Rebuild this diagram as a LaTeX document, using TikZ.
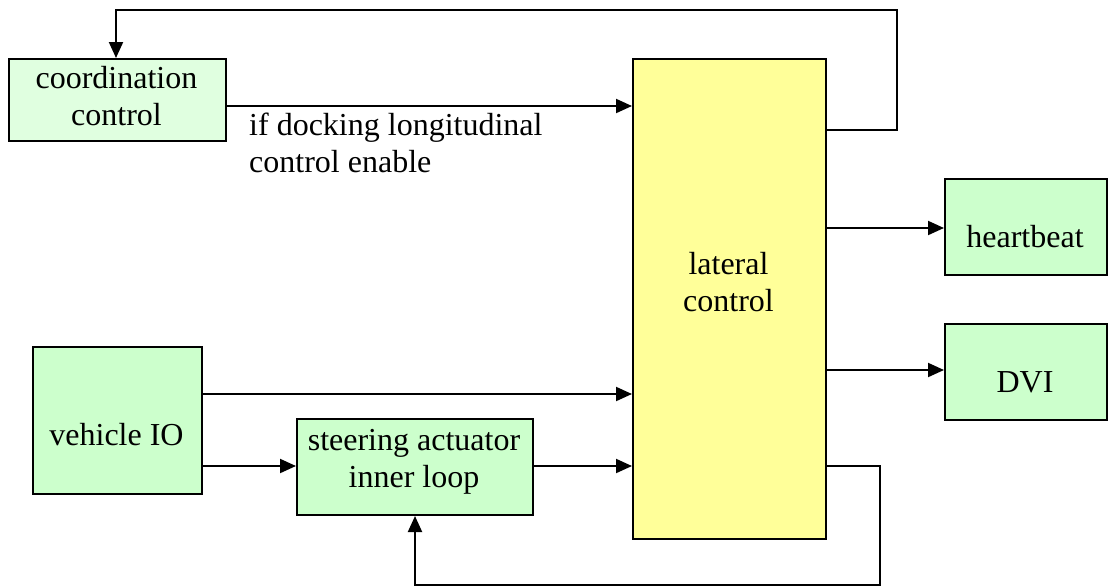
\documentclass[tikz,border=0pt]{standalone}
\usepackage{fontspec}
\setmainfont{Liberation Serif}
\usetikzlibrary{arrows.meta}
\definecolor{lightgreen}{HTML}{E0FFE0}
\definecolor{boxgreen}{HTML}{CCFFCC}
\definecolor{boxyellow}{HTML}{FFFF99}
\begin{document}
\begin{tikzpicture}[x=1pt,y=-1pt,
  box/.style={draw=black,line width=2pt,inner sep=0pt,anchor=north west},
  txt/.style={font=\fontsize{32}{37}\selectfont,inner sep=0pt,align=center,anchor=base},
  arr/.style={line width=2pt,-{Triangle[length=16pt,width=14pt]}},
  ln/.style={line width=2pt}]
\useasboundingbox (0,0) rectangle (1108,587);
% boxes
\node[box,fill=lightgreen,minimum width=217pt,minimum height=82pt] (coord) at (8,58) {};
\node[box,fill=boxyellow,minimum width=193pt,minimum height=480pt] (lat) at (632,58) {};
\node[box,fill=boxgreen,minimum width=162pt,minimum height=96pt] (hb) at (944,178) {};
\node[box,fill=boxgreen,minimum width=162pt,minimum height=96pt] (dvi) at (944,323) {};
\node[box,fill=boxgreen,minimum width=169pt,minimum height=147pt] (veh) at (32,346) {};
\node[box,fill=boxgreen,minimum width=236pt,minimum height=96pt] (steer) at (296,418) {};
% texts (base anchor = baseline of last line)
\node[txt] (tcoord) at (116.5,125) {coordination\\control};
\node[txt] (tlat) at (728.5,311) {lateral\\control};
\node[txt] (thb) at (1025,247) {heartbeat};
\node[txt] (tdvi) at (1025,392) {DVI};
\node[txt] (tveh) at (116.5,445) {vehicle IO};
\node[txt] (tsteer) at (414,487) {steering actuator\\inner loop};
\node[txt,align=left,anchor=base west] (tif) at (249,172) {if docking longitudinal\\control enable};
% connectors
\draw[arr] (coord.east |- 0,106) -- (lat.west |- 0,106);
\draw[arr] (lat.east |- 0,130) -- (897,130) -- (897,10) -- (116,10) -- (coord.north -| 116,0);
\draw[arr] (lat.east |- 0,228) -- (hb.west |- 0,228);
\draw[arr] (lat.east |- 0,370) -- (dvi.west |- 0,370);
\draw[arr] (veh.east |- 0,394) -- (lat.west |- 0,394);
\draw[arr] (veh.east |- 0,466) -- (steer.west |- 0,466);
\draw[arr] (steer.east |- 0,466) -- (lat.west |- 0,466);
\draw[arr] (lat.east |- 0,466) -- (880,466) -- (880,585) -- (415,585) -- (steer.south -| 415,0);
\end{tikzpicture}
\end{document}
